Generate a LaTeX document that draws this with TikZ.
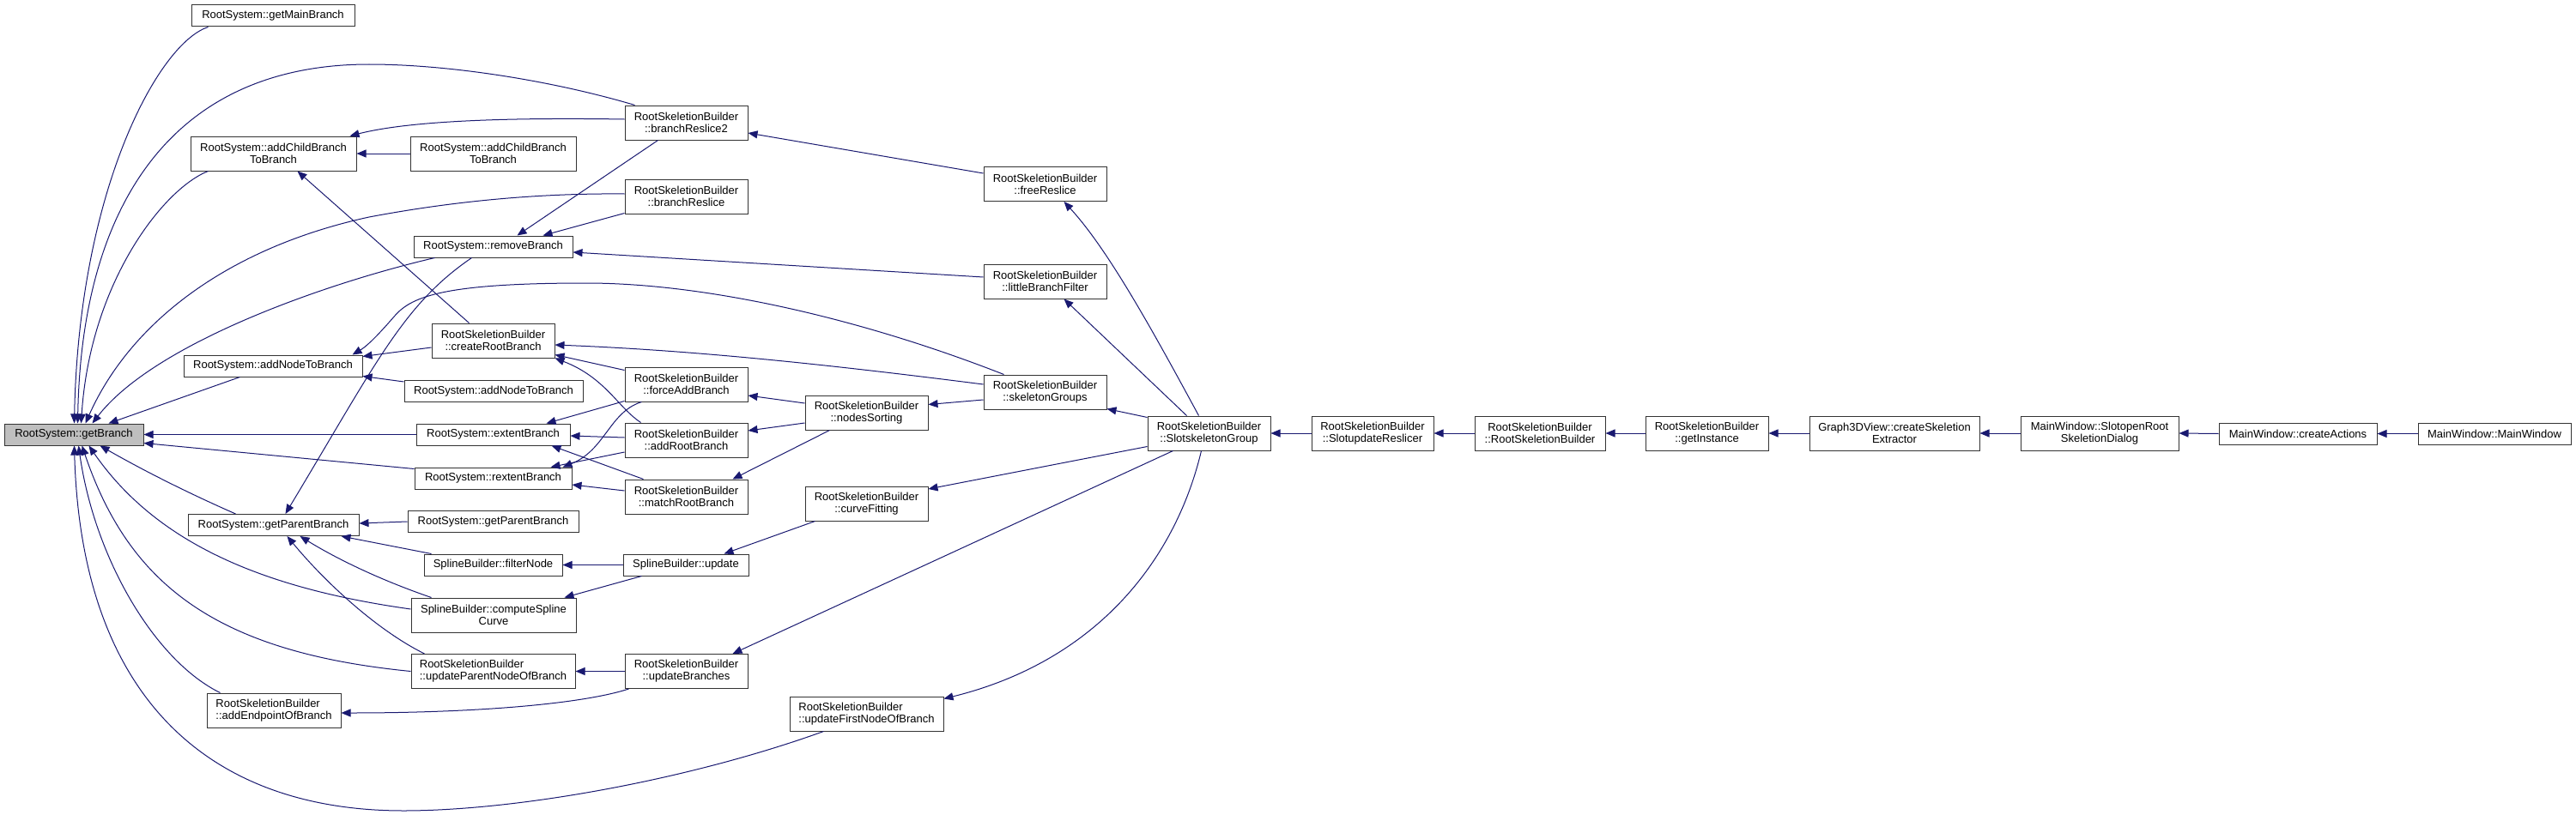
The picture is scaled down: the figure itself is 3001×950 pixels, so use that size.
\documentclass[tikz,border=0pt]{standalone}
\usepackage{fontspec}
\setmainfont{Liberation Sans}
\usetikzlibrary{arrows.meta,calc}
\definecolor{edgec}{HTML}{191970}
\definecolor{gbfill}{HTML}{BFBFBF}
\begin{document}
\begin{tikzpicture}[x=1pt,y=-1pt,
  box/.style={draw=black!80, line width=1pt, fill=white, inner sep=0pt,
    font=\fontsize{13pt}{14pt}\selectfont, align=center},
  one/.style={box, minimum height=25pt},
  two/.style={box, minimum height=40pt},
  twol/.style={two, align=left},
  edge/.style={draw=edgec, line width=1pt, -{Triangle[length=11pt,width=9pt]}}]
\useasboundingbox (0,0) rectangle (3001,950);

% column 1
\node[one, minimum width=162pt, fill=gbfill] (gb) at (86,506.5) {RootSystem::getBranch};
\node[one, minimum width=190pt] (gmb) at (318,18.5) {RootSystem::getMainBranch};
\node[two, minimum width=193pt] (acb) at (318.5,179) {RootSystem::addChildBranch\\ToBranch};
\node[one, minimum width=208pt] (anb) at (318,426.5) {RootSystem::addNodeToBranch};
\node[one, minimum width=199pt] (gpb) at (318.5,612) {RootSystem::getParentBranch};
\node[twol, minimum width=156pt] (aep) at (319,828) {RootSkeletionBuilder\\::addEndpointOfBranch};

% column 2
\node[two, minimum width=193pt] (acb2) at (574.5,179) {RootSystem::addChildBranch\\ToBranch};
\node[one, minimum width=185pt] (rmb) at (574.5,287.5) {RootSystem::removeBranch};
\node[two, minimum width=143pt] (crb) at (574.5,397) {RootSkeletionBuilder\\::createRootBranch};
\node[one, minimum width=208pt] (anb2) at (575,456) {RootSystem::addNodeToBranch};
\node[one, minimum width=179pt] (ext) at (574.5,506.5) {RootSystem::extentBranch};
\node[one, minimum width=183pt] (rext) at (574.5,557.5) {RootSystem::rextentBranch};
\node[one, minimum width=199pt] (gpb2) at (574.5,608) {RootSystem::getParentBranch};
\node[one, minimum width=161pt] (fn) at (574.5,658.5) {SplineBuilder::filterNode};
\node[two, minimum width=192pt] (csc) at (575,717) {SplineBuilder::computeSpline\\Curve};
\node[twol, minimum width=191pt] (upn) at (574.5,782.5) {RootSkeletionBuilder\\::updateParentNodeOfBranch};

% column 3
\node[two, minimum width=143pt] (br2) at (799.5,143) {RootSkeletionBuilder\\::branchReslice2};
\node[two, minimum width=143pt] (brs) at (799.5,229) {RootSkeletionBuilder\\::branchReslice};
\node[two, minimum width=143pt] (fab) at (799.5,448) {RootSkeletionBuilder\\::forceAddBranch};
\node[two, minimum width=143pt] (arb) at (799.5,513) {RootSkeletionBuilder\\::addRootBranch};
\node[two, minimum width=143pt] (mrb) at (799.5,579) {RootSkeletionBuilder\\::matchRootBranch};
\node[one, minimum width=146pt] (upd) at (799,658.5) {SplineBuilder::update};
\node[two, minimum width=143pt] (ub) at (799.5,782.5) {RootSkeletionBuilder\\::updateBranches};

% column 4
\node[two, minimum width=143pt] (ns) at (1009.5,481) {RootSkeletionBuilder\\::nodesSorting};
\node[two, minimum width=143pt] (cf) at (1009.5,587) {RootSkeletionBuilder\\::curveFitting};
\node[twol, minimum width=179pt] (ufn) at (1009.5,832) {RootSkeletionBuilder\\::updateFirstNodeOfBranch};

% column 5
\node[two, minimum width=143pt] (fr) at (1217.5,214.5) {RootSkeletionBuilder\\::freeReslice};
\node[two, minimum width=143pt] (lbf) at (1217.5,328) {RootSkeletionBuilder\\::littleBranchFilter};
\node[two, minimum width=143pt] (sg) at (1217.5,457) {RootSkeletionBuilder\\::skeletonGroups};

% chain
\node[two, minimum width=143pt] (ssg) at (1408.5,505) {RootSkeletionBuilder\\::SlotskeletonGroup};
\node[two, minimum width=142pt] (sur) at (1599,505) {RootSkeletionBuilder\\::SlotupdateReslicer};
\node[two, minimum width=152pt] (rsb) at (1794,505) {RootSkeletionBuilder\\::RootSkeletionBuilder};
\node[two, minimum width=143pt] (gi) at (1988.5,505) {RootSkeletionBuilder\\::getInstance};
\node[two, minimum width=198pt] (g3d) at (2207,505) {Graph3DView::createSkeletion\\Extractor};
\node[two, minimum width=184pt] (sor) at (2446,505) {MainWindow::SlotopenRoot\\SkeletionDialog};
\node[one, minimum width=184pt] (ca) at (2677,505.5) {MainWindow::createActions};
\node[one, minimum width=178pt] (mw) at (2906,505.5) {MainWindow::MainWindow};

% ---- edges into getBranch (top)
\draw[edge] ($(gmb.south west)+(20,0)$) .. controls (185,50) and (92,220) .. ($(gb.north west)+(82,0)$);
\draw[edge] ($(br2.north west)+(12,0)$) .. controls (640,93) and (520,75) .. (430,75)
   .. controls (200,75) and (95,240) .. ($(gb.north west)+(86,0)$);
\draw[edge] ($(acb.south west)+(21,0)$) .. controls (190,220) and (105,330) .. ($(gb.north west)+(90,0)$);
\draw[edge] ($(brs.west)+(0,-3)$) .. controls (620,225) and (520,236) .. (430,253)
   .. controls (260,290) and (150,380) .. ($(gb.north west)+(95,0)$);
\draw[edge] ($(rmb.south west)+(25,0)$) .. controls (380,330) and (180,400) .. ($(gb.north west)+(103,0)$);
\draw[edge] ($(anb.south west)+(66,0)$) -- ($(gb.north west)+(122,0)$);
% right
\draw[edge] (ext.west) -- (gb.east);
\draw[edge] ($(rext.north west)+(0,2)$) -- ($(gb.south east)+(0,-3)$);
% bottom
\draw[edge] ($(gpb.north west)+(56,0)$) .. controls (220,575) and (170,550) .. ($(gb.south west)+(112,0)$);
\draw[edge] ($(csc.west)+(0,-7)$) .. controls (300,685) and (180,630) .. ($(gb.south west)+(99,0)$);
\draw[edge] (upn.west) .. controls (250,760) and (150,680) .. ($(gb.south west)+(91,0)$);
\draw[edge] ($(aep.north west)+(16,0)$) .. controls (180,770) and (110,650) .. ($(gb.south west)+(87,0)$);
\draw[edge] ($(ufn.south west)+(40,0)$) .. controls (800,910) and (600,945) .. (470,945)
   .. controls (250,945) and (95,820) .. ($(gb.south west)+(82,0)$);

% ---- other edges
\draw[edge] ($(br2.west)+(0,-4)$) .. controls (600,137) and (480,140) .. ($(acb.north east)+(-8,0)$);
\draw[edge] (acb2.west) -- (acb.east);
\draw[edge] ($(crb.north west)+(44,0)$) -- ($(acb.south west)+(125,0)$);
\draw[edge] ($(rmb.south west)+(68,0)$) .. controls (470,355) and (440,420) .. ($(gpb.north west)+(114,0)$);
\draw[edge] ($(br2.south west)+(39,0)$) -- ($(rmb.north west)+(121,0)$);
\draw[edge] ($(brs.south west)+(0,-1)$) -- ($(rmb.north west)+(151,0)$);
\draw[edge] ($(lbf.west)+(0,-5)$) -- ($(rmb.east)+(0,6.5)$);
\draw[edge] ($(sg.north west)+(24,0)$) .. controls (1000,370) and (820,330) .. (683,330)
   .. controls (520,330) and (480,345) .. (460,368)
   .. controls (447,383) and (430,402) .. ($(anb.north east)+(-12,0)$);
\draw[edge] ($(crb.west)+(0,8)$) -- ($(anb.north east)+(0,2)$);
\draw[edge] ($(anb2.north west)+(0,2)$) -- ($(anb.south east)+(0,-1)$);
\draw[edge] ($(sg.west)+(0,-9)$) .. controls (950,423) and (800,408) .. ($(crb.east)+(0,5)$);
\draw[edge] ($(fab.north west)+(0,4)$) -- ($(crb.south east)+(0,-4)$);
\draw[edge] ($(arb.north west)+(19,0)$) .. controls (720,475) and (705,440) .. (crb.south east);
\draw[edge] ($(fab.south west)+(0,-1)$) -- ($(ext.north east)+(-28,0)$);
\draw[edge] ($(arb.west)+(0,-3)$) -- ($(ext.east)+(0,1.5)$);
\draw[edge] ($(mrb.north west)+(22,0)$) -- ($(ext.south east)+(-22,0)$);
\draw[edge] ($(arb.west)+(0,14)$) -- ($(rext.north east)+(-25,0)$);
\draw[edge] ($(fab.south west)+(20,0)$) .. controls (710,480) and (705,525) .. ($(rext.north east)+(-11,0)$);
\draw[edge] ($(mrb.west)+(0,-7)$) -- ($(rext.east)+(0,7.5)$);
\draw[edge] (gpb2.west) -- ($(gpb.east)+(0,-2)$);
\draw[edge] ($(fn.north west)+(9,0)$) -- ($(gpb.south east)+(-21,0)$);
\draw[edge] ($(csc.north west)+(24,0)$) .. controls (440,675) and (390,650) .. ($(gpb.south west)+(131,0)$);
\draw[edge] ($(upn.north west)+(16,0)$) .. controls (440,735) and (380,680) .. ($(gpb.south west)+(116,0)$);
\draw[edge] ($(ub.south west)+(5,0)$) .. controls (680,820) and (560,831) .. ($(aep.east)+(0,3)$);
\draw[edge] (ub.west) -- (upn.east);
\draw[edge] ($(ssg.south west)+(30,0)$) -- ($(ub.north east)+(-18,0)$);
\draw[edge] (upd.west) -- (fn.east);
\draw[edge] ($(upd.south west)+(22,0)$) -- ($(csc.north east)+(-14,0)$);
\draw[edge] ($(cf.south west)+(12,0)$) -- ($(upd.north east)+(-29,0)$);
\draw[edge] ($(ssg.south west)+(0,-5)$) -- ($(cf.east)+(0,-17)$);
\draw[edge] ($(ns.west)+(0,12)$) -- ($(arb.east)+(0,-11)$);
\draw[edge] ($(ns.south west)+(29,0)$) -- ($(mrb.north east)+(-18,0)$);
\draw[edge] ($(ns.west)+(0,-11)$) -- ($(fab.east)+(0,13)$);
\draw[edge] ($(sg.west)+(0,9)$) -- ($(ns.north east)+(0,11)$);
\draw[edge] ($(ssg.north west)+(0,2)$) -- ($(sg.south east)+(0,-1)$);
\draw[edge] ($(ssg.north west)+(46,0)$) -- ($(lbf.south west)+(94,0)$);
\draw[edge] ($(ssg.north west)+(60,0)$) .. controls (1340,380) and (1290,290) .. ($(fr.south west)+(94,0)$);
\draw[edge] ($(fr.west)+(0,-12.5)$) -- ($(br2.east)+(0,12)$);
\draw[edge] ($(ssg.south west)+(63,0)$) .. controls (1370,650) and (1280,770) .. ($(ufn.north east)+(0,3)$);
% chain
\draw[edge] (sur.west) -- (ssg.east);
\draw[edge] (rsb.west) -- (sur.east);
\draw[edge] (gi.west) -- (rsb.east);
\draw[edge] (g3d.west) -- (gi.east);
\draw[edge] (sor.west) -- (g3d.east);
\draw[edge] (ca.west) -- (sor.east);
\draw[edge] (mw.west) -- (ca.east);
\end{tikzpicture}
\end{document}
